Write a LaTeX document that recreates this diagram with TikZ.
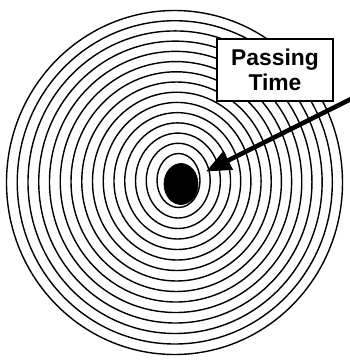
\documentclass[tikz,border=0pt]{standalone}
\usepackage{fontspec}
\setmainfont{Liberation Sans}
\usepackage{tikz}
\usetikzlibrary{arrows.meta,positioning,calc,shapes.geometric}
\tikzset{
  >={Triangle[length=5mm,width=4mm]},
  % ringar
  ring/.style={draw=black,line width=0.8pt},
  core/.style={ellipse,fill=black,draw=black,inner sep=0pt,
               minimum width=0.68cm,minimum height=0.82cm},
  % etikett
  lbl/.style={draw=black,fill=white,line width=0.7pt,align=center,
              minimum width=2.32cm,minimum height=1.24cm,inner sep=1pt,
              font=\bfseries\fontsize{13}{14.2}\selectfont},
  ptr/.style={->,draw=black,line width=2.6pt,shorten >=0.2cm},
}
\begin{document}
\begin{tikzpicture}[x=0.02cm,y=-0.02cm]
\useasboundingbox (0,0) rectangle (350,363);
  \foreach \i in {0,...,14}{
    \pgfmathsetmacro{\t}{\i/14}
    \draw[ring] ({178.5-4*\t},{180.5+2*\t}) ellipse [x radius={21.5+146.5*\t}, y radius={27+145*\t}];
  }
  \node[core] (core) at (181,184) {};
  \node[lbl] (label) at (275,70) {Passing\\Time};
  \coordinate (tail) at (351,99);
  \draw[ptr] (tail) -- (core);
\end{tikzpicture}
\end{document}
